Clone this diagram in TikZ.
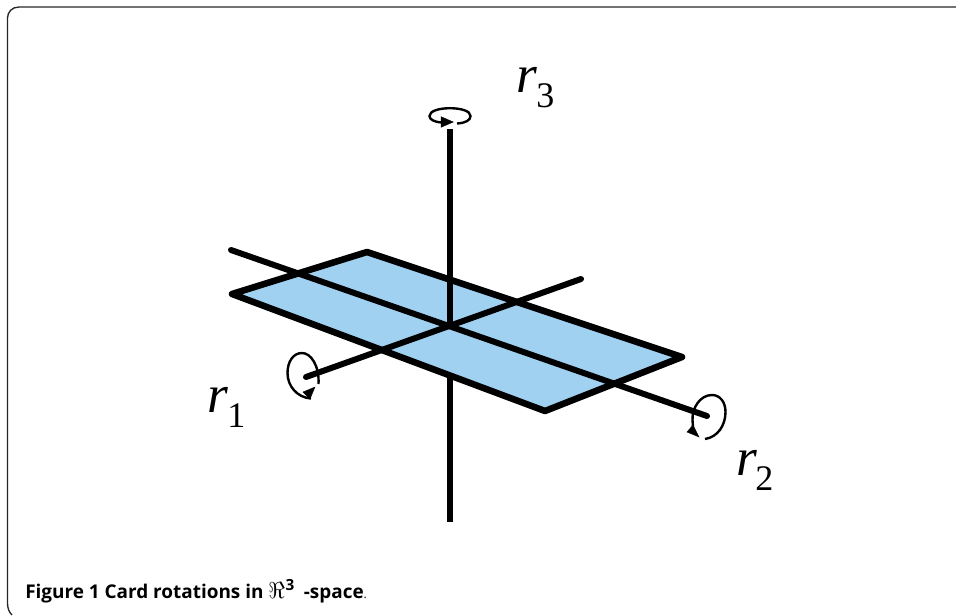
\documentclass[tikz,border=0pt]{standalone}
\usepackage{fontspec}
\setmainfont{Liberation Serif}
\newfontfamily\capfont{Open Sans}
\definecolor{card}{HTML}{A1D1F0}
\tikzset{
  x=0.75pt,y=-0.75pt,
  axis/.style={line width=4.1pt,black,line cap=butt},
  diagaxis/.style={line width=4.5pt,black,line cap=round},
  cardedge/.style={line width=4.9pt,black,fill=card,line join=round},
  spin/.style={line width=1.8pt,black},
  spinhead/.style={fill=black,draw=black,line width=0.3pt},
  lab/.style={inner sep=0pt,anchor=base west,font=\fontsize{40}{40}\selectfont\itshape},
  labsub/.style={inner sep=0pt,anchor=base west,font=\fontsize{27}{27}\selectfont},
  capt/.style={inner sep=0pt,anchor=base west,font=\capfont\fontsize{14.2}{17}\selectfont}
}
\begin{document}
\begin{tikzpicture}
\useasboundingbox (0,0) rectangle (956,615);
\draw[line width=1pt,black!85] (956,7) -- (19,7) .. controls (12,7) and (7.5,12) .. (7.5,18) -- (7.5,603) .. controls (7.5,608) and (9,612) .. (12,615);
% card
\coordinate (c1) at (232,294);
\coordinate (c2) at (367,252);
\coordinate (c3) at (682,357);
\coordinate (c4) at (545,411);
\coordinate (o) at (450,326);
\filldraw[cardedge] (c1) -- (c2) -- (c3) -- (c4) -- cycle;
% axes
\coordinate (a3t) at (450,129);
\coordinate (a3b) at (450,522);
\coordinate (a1a) at (306,377);
\coordinate (a1b) at (581,279);
\coordinate (a2a) at (231,250);
\coordinate (a2b) at (707,416);
\coordinate (a3c) at (450,378);
\draw[axis] (a3t) -- (o);
\draw[axis] (a3c) -- (a3b);
\draw[diagaxis] (a1a) -- (a1b);
\draw[diagaxis] (a2a) -- (a2b);
% rotation arrows
\draw[spin] (457,123.5) .. controls (466,123) and (470.5,120) .. (470.5,116) .. controls (470.5,111) and (461,108.2) .. (450,108.2) .. controls (439,108.2) and (429.5,111) .. (429.5,116) .. controls (429.5,119.5) and (434,122) .. (442,122.5);
\fill[spinhead] (441,116.7) -- (453.3,122) -- (441,127.3) -- cycle;
\draw[spin] (318.5,384) .. controls (319.5,366) and (311,353) .. (302,353) .. controls (293,353) and (287.5,362) .. (287.5,373) .. controls (287.5,386) and (297,397.5) .. (311,398.5);
\fill[spinhead] (303,392) -- (315,387) -- (310,399) -- cycle;
\draw[spin] (705,439) .. controls (718,437) and (725.5,425) .. (725.5,412) .. controls (725.5,402) and (720,395) .. (712,395) .. controls (700,395) and (692,408) .. (692.5,420) -- (693,427);
\fill[spinhead] (693,425) -- (699,437) -- (687,432) -- cycle;
% labels
\node[lab] (r3) at (516,92) {r};
\node[labsub] (s3) at (536,107) {3};
\node[lab] (r1) at (207,412) {r};
\node[labsub] (s1) at (227,427) {1};
\node[lab] (r2) at (736,475) {r};
\node[labsub] (s2) at (755,490) {2};
\node[capt] (cap) at (25,598) {\textbf{Figure 1 Card rotations in} {\fontsize{17.28}{17}\selectfont$\Re$}\kern0.3pt\raisebox{5.5pt}{\fontsize{11.5}{11}\selectfont\bfseries 3}\kern3.5pt\ \textbf{-space}\fontsize{9}{10}\selectfont.};
\end{tikzpicture}
\end{document}
